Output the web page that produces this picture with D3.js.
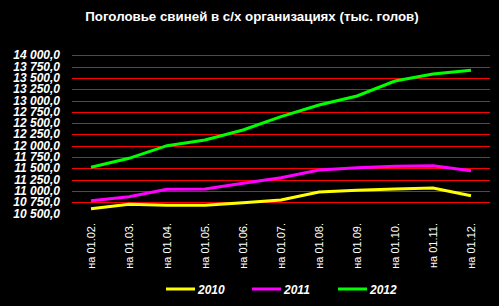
<!DOCTYPE html>
<html>
<head>
<meta charset="utf-8">
<script src="https://cdn.jsdelivr.net/npm/d3@7"></script>
<style>
  body { margin: 0; background: #000; }
  svg { display: block; }
</style>
</head>
<body>
<div id="chart"></div>
<script>
// chart data
var title = "Поголовье свиней в с/х организациях (тыс. голов)"
var months = ["на 01.02.", "на 01.03.", "на 01.04.", "на 01.05.", "на 01.06.", "на 01.07.",
              "на 01.08.", "на 01.09.", "на 01.10.", "на 01.11.", "на 01.12."]
var years = ["2010", "2011", "2012"]
var colors = ["#ffff00", "#ff00ff", "#00ff00"]
var v2010 = [10605, 10703, 10680, 10680, 10738, 10798, 10975, 11012, 11040, 11063, 10893]
var v2011 = [10783, 10871, 11034, 11040, 11167, 11291, 11462, 11513, 11543, 11557, 11446]
var v2012 = [11522, 11721, 12000, 12126, 12347, 12642, 12900, 13100, 13431, 13586, 13668]
var yTicks = [10500, 10750, 11000, 11250, 11500, 11750, 12000, 12250, 12500, 12750, 13000, 13250, 13500, 13750, 14000]

var series = [v2010, v2011, v2012]

var width = 499
var height = 306
var plotLeft = 72, plotRight = 490, plotTop = 55.3, plotBottom = 213.5

var svg = d3.select("#chart")
  .append("svg")
    .attr("width", width)
    .attr("height", height)
    .style("background", "#000")

var x = d3.scaleBand()
  .domain(months)
  .range([plotLeft, plotRight])

var y = d3.scaleLinear()
  .domain([10500, 14000])
  .range([plotBottom, plotTop])

var fmt = function(d){
  var s = d3.format(",.1f")(d)
  return s.replace(/,/g, " ").replace(".", ",")
}

// title
svg.append("text")
  .attr("x", 252)
  .attr("y", 21)
  .attr("text-anchor", "middle")
  .attr("fill", "#fff")
  .style("font-family", "Liberation Sans, Arial, sans-serif")
  .style("font-weight", "bold")
  .style("font-size", "13.3px")
  .text(title)

// grid lines
svg.append("g")
  .selectAll("line")
  .data(yTicks.slice(1))
  .enter().append("line")
    .attr("x1", plotLeft)
    .attr("x2", plotRight)
    .attr("y1", d => Math.round(y(d)) + 0.5)
    .attr("y2", d => Math.round(y(d)) + 0.5)
    .attr("stroke", "#ff0000")
    .attr("stroke-width", 1)

// y labels
svg.append("g")
  .selectAll("text")
  .data(yTicks)
  .enter().append("text")
    .attr("x", 60)
    .attr("y", d => y(d) + 4)
    .attr("text-anchor", "end")
    .attr("fill", "#fff")
    .style("font-family", "Liberation Sans, Arial, sans-serif")
    .style("font-weight", "bold")
    .style("font-style", "italic")
    .style("font-size", "12px")
    .text(fmt)

// x labels
svg.append("g")
  .selectAll("text")
  .data(months)
  .enter().append("text")
    .attr("transform", d => "translate(" + (x(d) + x.bandwidth() / 2 + 4) + ",223) rotate(-90)")
    .attr("text-anchor", "end")
    .attr("fill", "#fff")
    .style("font-family", "Liberation Sans, Arial, sans-serif")
    .style("font-size", "11px")
    .text(d => d)

// lines
var line = d3.line()
  .x((d, i) => x(months[i]) + x.bandwidth() / 2)
  .y(d => y(d))

svg.append("g")
  .selectAll("path")
  .data(series)
  .enter().append("path")
    .attr("d", line)
    .attr("fill", "none")
    .attr("stroke", (d, i) => colors[i])
    .attr("stroke-width", 3)

// legend
var legend = svg.append("g")
  .selectAll("g")
  .data(years)
  .enter().append("g")
    .attr("transform", (d, i) => "translate(" + (166 + i * 86) + ",289)")

legend.append("line")
  .attr("x1", 0)
  .attr("x2", 29)
  .attr("stroke", (d, i) => colors[i])
  .attr("stroke-width", 3)

legend.append("text")
  .attr("x", 32)
  .attr("y", 5)
  .attr("fill", "#fff")
  .style("font-family", "Liberation Sans, Arial, sans-serif")
  .style("font-weight", "bold")
  .style("font-style", "italic")
  .style("font-size", "12px")
  .text(d => d)
</script>
</body>
</html>
